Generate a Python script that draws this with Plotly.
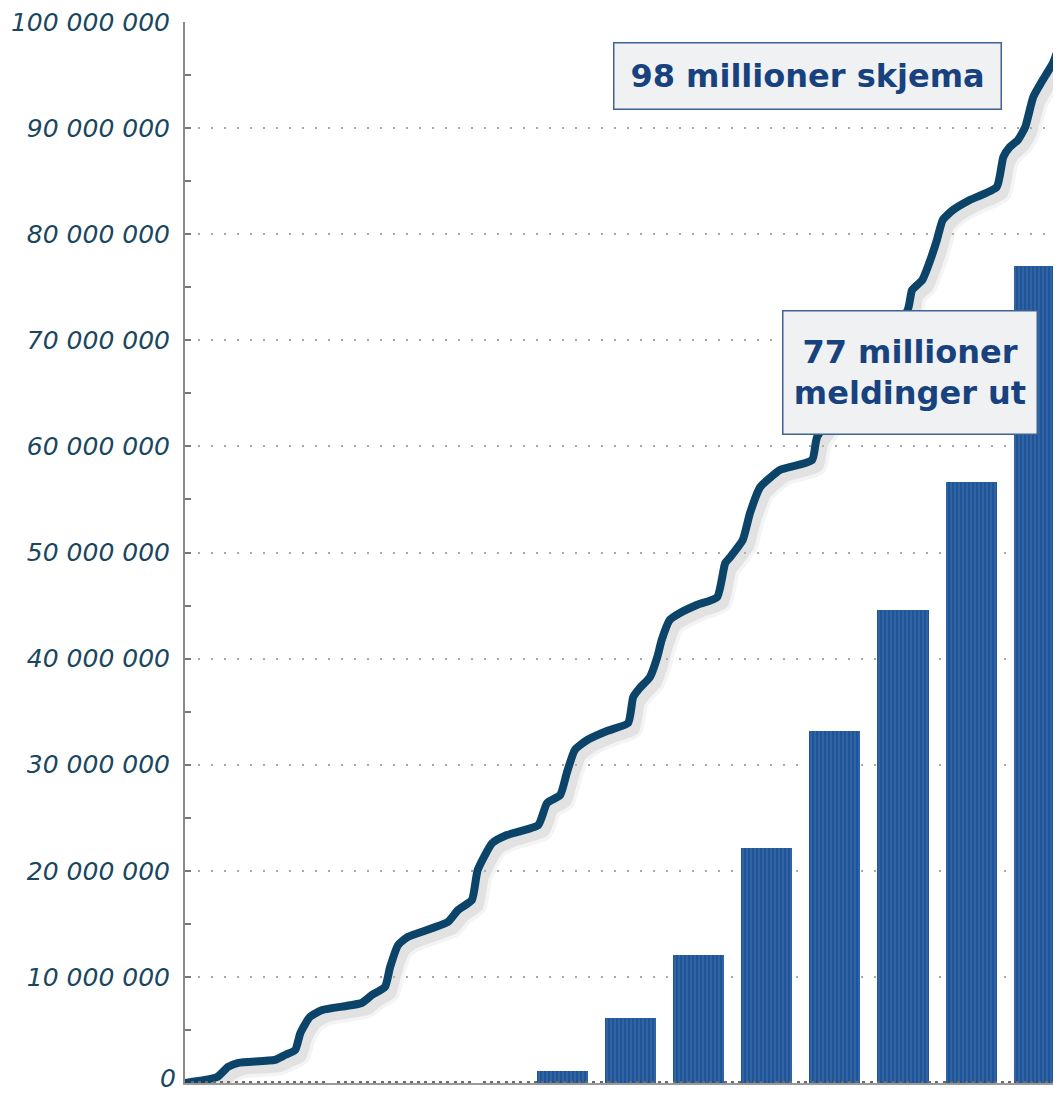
import plotly.graph_objects as go

# ---- data ----
# cumulative forms, x in months from start, y in millions
line_months = [0, 2.7, 4.4, 5.9, 7.3, 12.3, 13.7, 15.1, 15.8, 17.1, 18.8, 24.2, 25.6, 27.4,
               28.1, 29.2, 30.5, 36.0, 37.4, 39.3, 40.1, 42.1, 44.1, 48.4, 49.6, 51.4,
               52.3, 53.4, 55.1, 57.8, 60.7, 61.4, 62.3, 63.7, 64.7, 65.3, 66.4, 67.8,
               70.1, 72.9, 74.0, 74.7, 76.4, 77.4, 78.8, 80.1, 81.5, 85.9, 86.6, 99.0,
               99.6, 101.0, 102.1, 103.0, 103.8, 105.2, 107.5, 111.2, 112.1, 113.0,
               114.1, 115.1, 116.2, 117.5, 118.9, 119.9]
line_forms_m = [0, 0.28, 0.57, 1.51, 1.89, 2.17, 2.64, 3.11, 4.71, 6.22, 6.88, 7.54, 8.29, 9.05,
                10.93, 13.01, 13.76, 15.17, 16.31, 17.25, 20.08, 22.62, 23.37, 24.32, 26.39, 27.14,
                29.22, 31.39, 32.33, 33.18, 33.93, 36.38, 37.23, 38.27, 40.15, 41.75, 43.64, 44.30,
                45.05, 45.8, 49.0, 49.58, 51.18, 53.72, 56.17, 57.02, 57.78, 58.72, 60.89, 72.86,
                74.74, 75.68, 77.57, 79.45, 81.34, 82.28, 83.22, 84.45, 87.28, 88.22,
                88.88, 90.10, 92.93, 94.53, 96.14, 98.02]

# yearly messages out (millions)
bar_index = [0, 1, 2, 3, 4, 5, 6, 7]
bar_messages_m = [1.13, 6.1, 12.06, 22.15, 33.2, 44.6, 56.6, 77.0]

y_tick_values = [10, 20, 30, 40, 50, 60, 70, 80, 90, 100]
y_tick_labels = ["10 000 000", "20 000 000", "30 000 000", "40 000 000", "50 000 000",
                 "60 000 000", "70 000 000", "80 000 000", "90 000 000", "100 000 000"]
zero_label = "0"

label_forms = "98 millioner skjema"
label_messages = "77 millioner<br>meldinger ut"

M = 1e6
LINE_COLOR = "#0b4468"
BAR_COLOR = "#1f5597"
TEXT_BLUE = "#17427e"
TICK_COLOR = "#1a4660"
TICK_FONT = dict(family="DejaVu Sans", size=25, color=TICK_COLOR, style="italic")

fig = go.Figure()

# bars on the base subplot
fig.add_trace(go.Bar(
    x=bar_index, y=[v * M for v in bar_messages_m],
    width=0.75,
    marker=dict(color=BAR_COLOR, line=dict(width=0),
                pattern=dict(shape="|", fillmode="overlay", fgcolor="#5283bd",
                             size=4, solidity=0.3)),
    xaxis="x", yaxis="y", showlegend=False, hoverinfo="skip",
))

# soft shadow of the line (same data on slightly shifted overlay axes)
for w, col in [(18, "rgba(200,200,200,0.20)"), (11, "rgba(180,180,180,0.28)")]:
    fig.add_trace(go.Scatter(
        x=line_months, y=[v * M for v in line_forms_m],
        mode="lines", line=dict(color=col, width=w, shape="spline", smoothing=0.5),
        xaxis="x2", yaxis="y2", showlegend=False, hoverinfo="skip",
    ))

# main line
fig.add_trace(go.Scatter(
    x=line_months, y=[v * M for v in line_forms_m],
    mode="lines", line=dict(color=LINE_COLOR, width=8, shape="spline", smoothing=0.5),
    xaxis="x3", yaxis="y3", showlegend=False,
))

dx = 0.8   # months (shadow shift right)
dy = 0.6   # millions (shadow shift down)

hidden = dict(showgrid=False, zeroline=False, showline=False, showticklabels=False, ticks="")

# page body has an 8px margin, so the figure is offset by 8px
fig.update_layout(
    width=1053, height=1088,
    margin=dict(l=177, r=0, t=14, b=13),
    paper_bgcolor="white", plot_bgcolor="white",
    bargap=0,
    xaxis=dict(range=[-5.54, 7.32], automargin=False, **hidden),
    yaxis=dict(
        range=[0, 100 * M], automargin=False,
        tickmode="array", tickvals=[v * M for v in y_tick_values], ticktext=y_tick_labels,
        tickfont=TICK_FONT,
        ticklabelstandoff=8, ticklabeloverflow="allow",
        showline=True, linecolor="#8a8a8a", linewidth=2,
        ticks="inside", ticklen=6, tickwidth=2, tickcolor="#777",
        minor=dict(dtick=5 * M, tick0=0, ticks="inside", ticklen=6, tickwidth=2,
                   tickcolor="#777", showgrid=False),
        showgrid=True, gridcolor="#a8a8a8", gridwidth=2, griddash="2px,11px",
        zeroline=False,
    ),
    xaxis2=dict(range=[-dx, 120 - dx], overlaying="x", automargin=False, **hidden),
    yaxis2=dict(range=[dy * M, (100 + dy) * M], overlaying="y", automargin=False, **hidden),
    xaxis3=dict(
        range=[0, 120], overlaying="x", automargin=False,
        showgrid=False, zeroline=False, showticklabels=False, ticks="",
        showline=True, linecolor="#9a9a9a", linewidth=2,
        minor=dict(tick0=0, dtick=1, ticks="inside", ticklen=2, tickwidth=3,
                   tickcolor="#6a6a6a", showgrid=False),
    ),
    yaxis3=dict(range=[0, 100 * M], overlaying="y", automargin=False, **hidden),
    annotations=[
        dict(text=zero_label, xref="paper", yref="paper", x=0, y=0,
             xanchor="right", yanchor="bottom", xshift=-8, yshift=-11,
             showarrow=False, font=TICK_FONT, borderpad=0),
        dict(text=label_forms, xref="paper", yref="paper", x=0.7106, y=0.949,
             xanchor="center", yanchor="middle", showarrow=False,
             font=dict(family="DejaVu Sans", size=32, color=TEXT_BLUE, weight="bold"),
             bgcolor="#f0f1f3", bordercolor="#3d6492", borderwidth=1.5, borderpad=0,
             width=386, height=65),
        dict(text=label_messages, xref="paper", yref="paper", x=0.8276, y=0.6697,
             xanchor="center", yanchor="middle", showarrow=False,
             font=dict(family="DejaVu Sans", size=32, color=TEXT_BLUE, weight="bold"),
             bgcolor="#f0f1f3", bordercolor="#3d6492", borderwidth=1.5, borderpad=0,
             width=253, height=122),
    ],
)

fig.write_html("out.html")
